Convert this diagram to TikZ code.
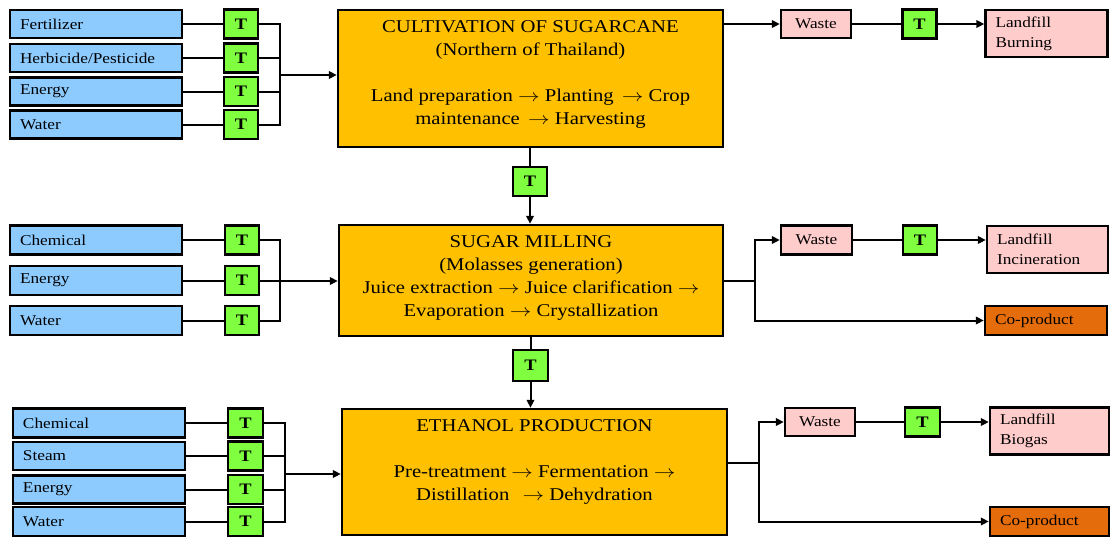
\documentclass[tikz,border=0pt]{standalone}
\usepackage{fontspec}
\usepackage{graphicx}
\setmainfont{Liberation Serif}[FakeStretch=1.15]
\usetikzlibrary{arrows.meta}
\definecolor{inblue}{RGB}{141,203,255}
\definecolor{tgreen}{RGB}{127,255,63}
\definecolor{mainorange}{RGB}{255,192,0}
\definecolor{wastepink}{RGB}{255,204,204}
\definecolor{coorange}{RGB}{228,108,10}
\newcommand{\rarr}{\scalebox{1.25}[1]{$\rightarrow$}}
\begin{document}
\begin{tikzpicture}[x=1pt,y=-1pt,
  box/.style={draw=black, line width=2.4pt, inner ysep=0pt},
  inbox/.style={box, fill=inblue, minimum width=172pt, minimum height=28pt, inner xsep=10pt, text width=152pt, align=left, font=\fontsize{15}{18}\selectfont},
  tbox/.style={box, fill=tgreen, minimum width=34pt, minimum height=29pt, inner xsep=0pt, font=\fontsize{16}{18}\selectfont\bfseries},
  mainbox/.style={box, fill=mainorange},
  maintext/.style={align=center, inner sep=0pt, font=\fontsize{18}{23}\selectfont},
  waste/.style={box, fill=wastepink, minimum width=70pt, minimum height=28pt, inner xsep=0pt, font=\fontsize{15}{18}\selectfont},
  landfill/.style={box, fill=wastepink, minimum width=122pt, minimum height=47pt, inner xsep=10pt, text width=102pt, align=left, font=\fontsize{15}{20}\selectfont},
  coprod/.style={box, fill=coorange, minimum width=122pt, minimum height=29pt, inner xsep=10pt, text width=102pt, align=left, font=\fontsize{15}{18}\selectfont},
  conn/.style={line width=2pt},
  arr/.style={conn, -{Triangle[length=8pt,width=7.5pt]}}
]
\useasboundingbox (0,0) rectangle (1110,539);

% ---------- Row 1 ----------
\node[inbox] (f1) at (96,24) {Fertilizer};
\node[inbox] (f2) at (96,58) {Herbicide/Pesticide};
\node[inbox] (f3) at (96,91.5) {Energy};
\node[inbox] (f4) at (96,124.5) {Water};
\node[tbox] (ft1) at (241,24) {T};
\node[tbox] (ft2) at (241,58) {T};
\node[tbox] (ft3) at (241,91.5) {T};
\node[tbox] (ft4) at (241,124.5) {T};
\coordinate (j1) at (280,75);

\node[mainbox, minimum width=385pt, minimum height=137pt] (c1) at (530.5,78.5) {};
\node[maintext] (c1t) at (530.5,74) {CULTIVATION OF SUGARCANE\\(Northern of Thailand)\\[23pt]Land preparation \rarr{} Planting\, \rarr{} Crop\\maintenance\, \rarr{} Harvesting};

\node[waste] (w1) at (816,24) {Waste};
\node[tbox] (wt1) at (919.5,24) {T};
\node[landfill] (l1) at (1046.5,33.5) {Landfill\\Burning};

\foreach \i in {1,...,4} {\draw[conn] (f\i) -- (ft\i);}
\draw[conn] (ft1.east) -| (j1);
\draw[conn] (ft4.east) -| (j1);
\draw[conn] (ft2.east) -- (ft2.east -| j1);
\draw[conn] (ft3.east) -- (ft3.east -| j1);
\draw[arr] (j1) -- (c1.west |- j1);
\draw[arr] (c1.east |- w1) -- (w1);
\draw[conn] (w1) -- (wt1);
\draw[arr] (wt1) -- (l1.west |- wt1);

% ---------- Vertical 1 ----------
\node[tbox] (tv1) at (530,181.5) {T};

% ---------- Row 2 ----------
\node[inbox, minimum height=29pt] (s1) at (96,240) {Chemical};
\node[inbox, minimum height=29pt] (s2) at (96,280.5) {Energy};
\node[inbox, minimum height=29pt] (s3) at (96,320.5) {Water};
\node[tbox] (st1) at (242,240) {T};
\node[tbox] (st2) at (242,280.5) {T};
\node[tbox] (st3) at (242,320.5) {T};
\coordinate (j2) at (280,281);

\node[mainbox, minimum width=384pt, minimum height=111pt] (c2) at (531,280.5) {};
\node[maintext] (c2t) at (531,277.5) {SUGAR MILLING\\(Molasses generation)\\Juice extraction \rarr{} Juice clarification \rarr\\Evaporation \rarr{} Crystallization};

\coordinate (r2) at (755,281);
\node[waste, minimum width=71pt, minimum height=29pt] (w2) at (816.5,240) {Waste};
\node[tbox] (wt2) at (920,240) {T};
\node[landfill, minimum width=121pt, text width=101pt] (l2) at (1047.5,249.5) {Landfill\\Incineration};
\node[coprod] (cp2) at (1046,320.5) {Co-product};

\foreach \i in {1,...,3} {\draw[conn] (s\i) -- (st\i);}
\draw[conn] (st1.east) -| (j2);
\draw[conn] (st3.east) -| (j2);
\draw[conn] (st2.east) -- (st2.east -| j2);
\draw[arr] (j2) -- (c2.west |- j2);
\draw[conn] (c1.south -| tv1) -- (tv1);
\draw[arr] (tv1) -- (c2.north -| tv1);
\draw[conn] (c2.east |- r2) -- (r2);
\draw[arr] (r2) |- (w2);
\draw[arr] (r2) |- (cp2);
\draw[conn] (w2) -- (wt2);
\draw[arr] (wt2) -- (l2.west |- wt2);

% ---------- Vertical 2 ----------
\node[tbox, minimum height=31pt, minimum width=35pt] (tv2) at (530.5,365.5) {T};

% ---------- Row 3 ----------
\node[inbox, minimum height=29pt] (e1) at (99,423) {Chemical};
\node[inbox] (e2) at (99,456) {Steam};
\node[inbox] (e3) at (99,489.5) {Energy};
\node[inbox, minimum height=29pt] (e4) at (99,521.5) {Water};
\node[tbox, minimum width=35pt] (et1) at (245.5,423) {T};
\node[tbox, minimum width=35pt] (et2) at (245.5,456) {T};
\node[tbox, minimum width=35pt] (et3) at (245.5,489.5) {T};
\node[tbox, minimum width=35pt] (et4) at (245.5,521.5) {T};
\coordinate (j3) at (285,474);

\node[mainbox, minimum width=385pt, minimum height=126pt] (c3) at (534.5,472) {};
\node[maintext] (c3t) at (534.5,461.5) {ETHANOL PRODUCTION\\[23pt]Pre-treatment \rarr{} Fermentation \rarr\\Distillation\;\, \rarr{} Dehydration};

\coordinate (r3) at (759,463);
\node[waste] (w3) at (820,422) {Waste};
\node[tbox, minimum width=35pt] (wt3) at (922.5,422) {T};
\node[landfill, minimum width=119pt, text width=99pt] (l3) at (1049.5,431) {Landfill\\Biogas};
\node[coprod, minimum width=119pt, text width=99pt] (cp3) at (1049.5,521.5) {Co-product};

\foreach \i in {1,...,4} {\draw[conn] (e\i) -- (et\i);}
\draw[conn] (et1.east) -| (j3);
\draw[conn] (et4.east) -| (j3);
\draw[conn] (et2.east) -- (et2.east -| j3);
\draw[conn] (et3.east) -- (et3.east -| j3);
\draw[arr] (j3) -- (c3.west |- j3);
\draw[conn] (c2.south -| tv2) -- (tv2);
\draw[arr] (tv2) -- (c3.north -| tv2);
\draw[conn] (c3.east |- r3) -- (r3);
\draw[arr] (r3) |- (w3);
\draw[arr] (r3) |- (cp3);
\draw[conn] (w3) -- (wt3);
\draw[arr] (wt3) -- (l3.west |- wt3);
\end{tikzpicture}
\end{document}
